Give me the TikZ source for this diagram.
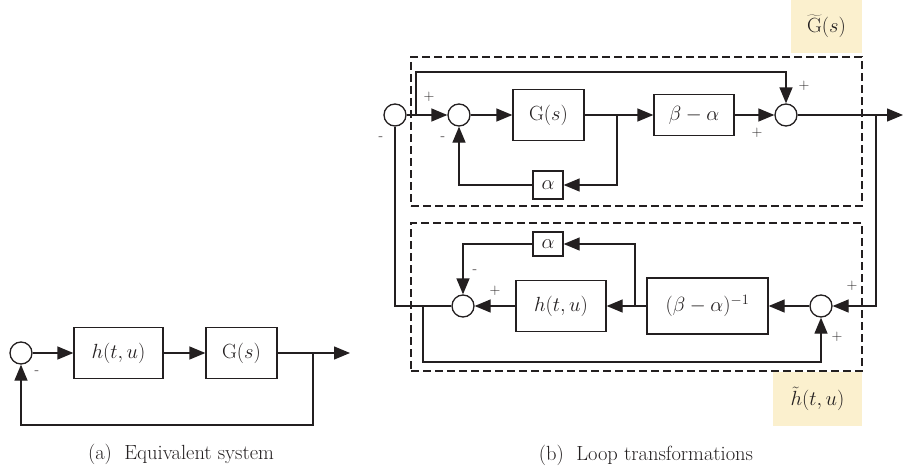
\RequirePackage{fix-cm}
\documentclass[tikz,border=0pt]{standalone}
\usetikzlibrary{arrows.meta}
\definecolor{hlcol}{RGB}{251,240,206}
\definecolor{ink}{RGB}{35,31,32}
\begin{document}
\begin{tikzpicture}[x=1pt,y=-1pt,
  line width=1.3pt, draw=ink,
  every node/.style={font=\fontsize{20.5}{24}\selectfont, text=ink},
  sumc/.style={circle, draw=ink, line width=1.3pt, minimum size=22pt, inner sep=0pt, fill=white},
  blk/.style={rectangle, draw=ink, line width=1.3pt, inner sep=0pt},
  arr/.style={-{Triangle[length=16pt,width=13pt]}},
  dbox/.style={rectangle, draw=ink, line width=1.3pt, dash pattern=on 8pt off 4pt, inner sep=0pt},
  hl/.style={rectangle, fill=hlcol, inner sep=0pt},
  lbl/.style={font=\fontsize{15}{17}\selectfont, inner sep=0pt},
  captext/.style={font=\fontsize{20.5}{24}\selectfont}]
\useasboundingbox (0,0) rectangle (903,471);

% ---------- (a) ----------
\node[sumc] (c1) at (21,353) {};
\node[blk, minimum width=89pt, minimum height=51pt] (ha) at (118.5,353) {$h(t,u)$};
\node[blk, minimum width=71pt, minimum height=51pt] (ga) at (241.5,353) {$\mathrm{G}(s)$};
\coordinate (ba) at (313,353);
\coordinate (oa) at (350,353);
\draw[arr] (c1.east) -- (ha.west);
\draw[arr] (ha.east) -- (ga.west);
\draw[arr] (ga.east) -- (oa);
\draw[arr] (ba) -- ++(0,72) -| (c1.south);
\node[lbl] (ma) at (37,373) {-};
\node[captext] (capa) at (181,454) {(a)\ \ Equivalent system};

% ---------- (b) ----------
\node[hl, minimum width=71pt, minimum height=53pt] (gt) at (826.5,26.5) {$\widetilde{\mathrm{G}}(s)$};
\node[hl, minimum width=89pt, minimum height=54pt] (htl) at (817.5,399) {$\tilde{h}(t,u)$};
\node[dbox, minimum width=451pt, minimum height=149pt] (ub) at (636.5,131.5) {};
\node[dbox, minimum width=451pt, minimum height=148pt] (lb) at (636.5,297) {};

% upper row
\node[sumc] (s1) at (395,115) {};
\node[sumc] (s2) at (459,115) {};
\node[blk, minimum width=71pt, minimum height=51pt] (gb) at (548.5,115) {$\mathrm{G}(s)$};
\node[blk, minimum width=80pt, minimum height=41pt] (bma) at (694,115) {$\beta-\alpha$};
\node[sumc] (s3) at (786,115) {};
\node[blk, minimum width=30pt, minimum height=28pt] (al1) at (548,185) {$\alpha$};
\coordinate (p1) at (416,115);
\coordinate (p2) at (617,115);
\coordinate (p3) at (876,115);
\coordinate (ob) at (903,115);

\draw[arr] (s1.east) -- (s2.west);
\draw[arr] (p1) -- (416,72) -| (s3.north);
\draw[arr] (s2.east) -- (gb.west);
\draw[arr] (gb.east) -- (bma.west);
\draw[arr] (bma.east) -- (s3.west);
\draw[arr] (s3.east) -- (ob);
\draw[arr] (p2) |- (al1.east);
\draw[arr] (al1.west) -| (s2.south);

% lower row
\node[sumc] (s4) at (463,306) {};
\node[blk, minimum width=90pt, minimum height=51pt] (hb) at (561,306) {$h(t,u)$};
\node[blk, minimum width=121pt, minimum height=56pt] (binv) at (707.5,306) {$(\beta-\alpha)^{-1}$};
\node[sumc] (s5) at (821,306) {};
\node[blk, minimum width=30pt, minimum height=24pt] (al2) at (548,244) {$\alpha$};
\coordinate (p4) at (635,306);
\coordinate (p5) at (423,306);

\draw[arr] (p3) |- (s5.east);
\draw[arr] (s5.west) -- (binv.east);
\draw[arr] (binv.west) -- (hb.east);
\draw[arr] (p4) |- (al2.east);
\draw[arr] (al2.west) -| (s4.north);
\draw[arr] (hb.west) -- (s4.east);
\draw (s4.west) -| (s1.south);
\draw[arr] (p5) -- (423,362) -| (s5.south);

% signs
\node[lbl] (m1) at (381,139) {-};
\node[lbl] (pl1) at (429,97) {+};
\node[lbl] (m2) at (443,139) {-};
\node[lbl] (pl2) at (804,86) {+};
\node[lbl] (pl3) at (757,133) {+};
\node[lbl] (m3) at (475,272) {-};
\node[lbl] (pl4) at (495,291) {+};
\node[lbl] (pl5) at (852,286) {+};
\node[lbl] (pl6) at (837,337) {+};

\node[captext] (capb) at (646,455) {(b)\ \ Loop transformations};
\end{tikzpicture}
\end{document}
